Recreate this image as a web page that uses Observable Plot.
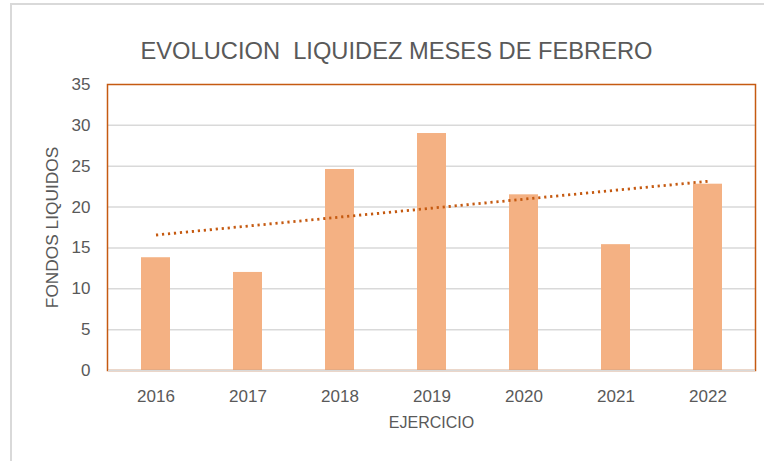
<!DOCTYPE html>
<html>
<head>
<meta charset="utf-8">
<script src="https://cdn.jsdelivr.net/npm/d3@7"></script>
<script src="https://cdn.jsdelivr.net/npm/@observablehq/plot@0.6"></script>
<style>
  html, body { margin: 0; padding: 0; background: #fff; overflow: hidden; }
  #wrap { position: relative; width: 764px; height: 461px; }
  #wrap svg { position: absolute; left: 0; top: 0; }
  #border { position: absolute; left: 10px; top: 3px; width: 800px; height: 500px;
            border: 2px solid #d9d9d9; pointer-events: none; background: transparent; }
</style>
</head>
<body>
<div id="wrap"><div id="border"></div></div>
<script>
const title = "EVOLUCION  LIQUIDEZ MESES DE FEBRERO";
const xLabel = "EJERCICIO";
const yLabel = "FONDOS LIQUIDOS";
const years = ["2016", "2017", "2018", "2019", "2020", "2021", "2022"];
const values = [13.8, 12.0, 24.6, 29.0, 21.5, 15.4, 22.8];
const yTicks = [0, 5, 10, 15, 20, 25, 30, 35];

const data = years.map((y, i) => ({year: y, value: values[i], idx: i}));

// linear trend (least squares) computed from the data
const mx = d3.mean(data, d => d.idx);
const my = d3.mean(values);
const slope = d3.sum(data, d => (d.idx - mx) * (d.value - my)) / d3.sum(data, d => (d.idx - mx) ** 2);
const trend = data.map(d => ({year: d.year, trend: my + slope * (d.idx - mx)}));

const textColor = "#595959";

const chart = Plot.plot({
  width: 764,
  height: 461,
  marginTop: 84,
  marginBottom: 91,
  marginLeft: 107,
  marginRight: 9,
  style: {fontFamily: "Liberation Sans, Arial, sans-serif", fontSize: "17px", color: textColor, background: "transparent"},
  x: {type: "band", domain: years, paddingInner: 0.69, paddingOuter: 0.345},
  y: {domain: [0, 35]},
  marks: [
    Plot.ruleY(yTicks.filter(t => t > 0 && t < 35), {stroke: "#d9d9d9", strokeWidth: 1.5}),
    Plot.barY(data, {x: "year", y: "value", fill: "#f4b183"}),
    Plot.line(trend, {x: "year", y: "trend", stroke: "#c55a11", strokeWidth: 2.8, strokeDasharray: "2.2 3.8", strokeLinecap: "butt"}),
    Plot.frame({stroke: "#c55a11", strokeWidth: 1.5}),
    Plot.ruleY([0], {stroke: "#d9d9d9", strokeWidth: 1.5, insetLeft: 1}),
    Plot.axisY({ticks: yTicks, tickSize: 0, tickPadding: 17, label: null, fill: textColor, fontSize: 17}),
    Plot.axisX({tickSize: 0, tickPadding: 19, label: null, fill: textColor, fontSize: 17}),
    Plot.text([xLabel], {frameAnchor: "bottom", dy: 57, fill: textColor, fontSize: 16}),
    Plot.text([yLabel], {frameAnchor: "left", textAnchor: "middle", dx: -55, rotate: -90, fill: textColor, fontSize: 17.3}),
    Plot.text([title], {frameAnchor: "top", dy: -42, dx: -35, fill: textColor, fontSize: 23.7})
  ]
});
document.getElementById("wrap").insertBefore(chart, document.getElementById("border"));
</script>
</body>
</html>
